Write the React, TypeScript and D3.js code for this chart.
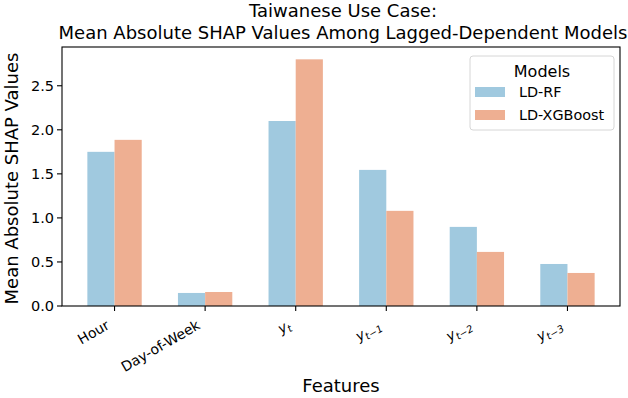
import React from 'react';
import * as d3 from 'd3';

// data
const features = ['Hour', 'Day-of-Week', 'y_t', 'y_t-1', 'y_t-2', 'y_t-3'];
const featureSubs = ['', '', 't', 't\u22121', 't\u22122', 't\u22123'];
const models = ['LD-RF', 'LD-XGBoost'];
const rfValues = [1.75, 0.148, 2.1, 1.545, 0.898, 0.477];
const xgbValues = [1.886, 0.159, 2.8, 1.08, 0.614, 0.375];
const modelColors = ['#a0c9df', '#eeaf92'];
const yTicks = [0, 0.5, 1.0, 1.5, 2.0, 2.5];

const W = 628;
const H = 398;
const margin = { left: 62, right: 8, top: 47, bottom: 92 };

const App = () => {
  const plotW = W - margin.left - margin.right;
  const plotH = H - margin.top - margin.bottom;
  const bottom = margin.top + plotH;

  const series = [rfValues, xgbValues];
  const maxVal = d3.max([...rfValues, ...xgbValues]) as number;

  // matplotlib style: bars of width 0.3 around integer positions, 5% margins
  const lo = -0.3, hi = features.length - 1 + 0.3;
  const pad = (hi - lo) * 0.05;
  const x = d3.scaleLinear().domain([lo - pad, hi + pad]).range([margin.left, margin.left + plotW]);
  const y = d3.scaleLinear().domain([0, maxVal * 1.05]).range([bottom, margin.top]);
  const barW = 0.3;

  const font = 'DejaVu Sans, sans-serif';

  return (
    <svg width={W} height={H} style={{ position: 'absolute', left: 0, top: 0, background: '#fff' }} fontFamily={font}>
      {/* title */}
      <text x={margin.left + plotW / 2 + 2} y={17} textAnchor="middle" fontSize={18} fill="#000">Taiwanese Use Case:</text>
      <text x={margin.left + plotW / 2 + 2} y={39} textAnchor="middle" fontSize={18} fill="#000">Mean Absolute SHAP Values Among Lagged-Dependent Models</text>

      {/* bars */}
      {series.map((vals, si) =>
        vals.map((v, i) => (
          <rect
            key={`${si}-${i}`}
            x={x(i + (si === 0 ? -barW : 0))}
            y={y(v)}
            width={x(barW) - x(0)}
            height={bottom - y(v)}
            fill={modelColors[si]}
          />
        ))
      )}

      {/* frame */}
      <rect x={margin.left} y={margin.top} width={plotW} height={plotH} fill="none" stroke="#000" strokeWidth={1.1} />

      {/* y axis */}
      {yTicks.map(t => (
        <g key={t}>
          <line x1={margin.left - 5} x2={margin.left} y1={y(t)} y2={y(t)} stroke="#000" strokeWidth={1.1} />
          <text x={margin.left - 8} y={y(t)} dy="0.35em" textAnchor="end" fontSize={14.5}>{t.toFixed(1)}</text>
        </g>
      ))}
      <text transform={`translate(18,${margin.top + plotH / 2 + 2}) rotate(-90)`} textAnchor="middle" fontSize={18}>Mean Absolute SHAP Values</text>

      {/* x axis */}
      {features.map((f, i) => {
        const tx = x(i);
        const sub = featureSubs[i];
        return (
          <g key={f}>
            <line x1={tx} x2={tx} y1={bottom} y2={bottom + 5} stroke="#000" strokeWidth={1.1} />
            <text transform={`translate(${tx - 4},${bottom + 22}) rotate(-30)`} textAnchor="end" fontSize={14}>
              {i < 2 ? f : (
                <>
                  <tspan fontStyle="italic">y</tspan>
                  <tspan fontStyle="italic" fontSize={10} dy="3">{sub}</tspan>
                </>
              )}
            </text>
          </g>
        );
      })}
      <text x={margin.left + plotW / 2} y={392} textAnchor="middle" fontSize={18}>Features</text>

      {/* legend */}
      <g>
        <rect x={470} y={56} width={144} height={74} rx={3} fill="#fff" fillOpacity={0.8} stroke="#d6d6d6" strokeWidth={1} />
        <text x={542} y={77} textAnchor="middle" fontSize={16}>Models</text>
        {models.map((m, i) => (
          <g key={m}>
            <rect x={475} y={87 + i * 23} width={30} height={10} fill={modelColors[i]} />
            <text x={519} y={97 + i * 23} fontSize={14.4}>{m}</text>
          </g>
        ))}
      </g>
    </svg>
  );
};

export default App;
